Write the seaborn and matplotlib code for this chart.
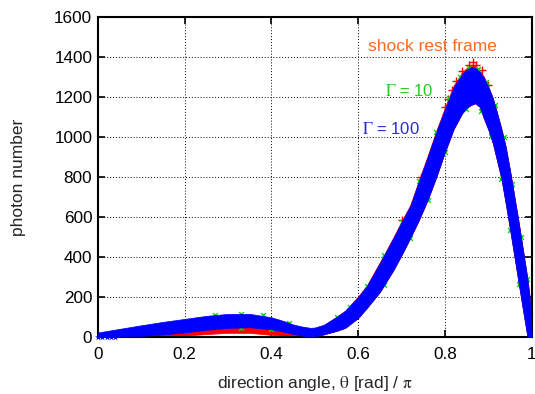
import matplotlib
matplotlib.use("Agg")
import matplotlib.pyplot as plt
import seaborn as sns

sns.set_theme(style="ticks")
plt.rcParams["font.family"] = ["Liberation Sans", "DejaVu Sans"]
plt.rcParams["mathtext.fontset"] = "stix"

# angle grid (theta / pi)
theta = [0, .05, .1, .15, .2, .25, .3, .35, .4, .43, .45, .47, .49, .5, .52, .55, .57,
         .6, .62, .65, .68, .7, .72, .74, .76, .78, .8, .82, .84, .85, .86, .87, .88,
         .89, .9, .91, .92, .93, .94, .95, .96, .97, .98, .99, .995, 1.0]

# Gamma = 100 band (upper / lower envelope)
g100_hi = [22, 40, 58, 75, 90, 105, 115, 115, 98, 78, 62, 52, 45, 47, 60, 100, 130,
           200, 255, 370, 490, 575, 655, 780, 900, 1025, 1140, 1250, 1315, 1335, 1350,
           1345, 1325, 1295, 1250, 1195, 1120, 1040, 950, 830, 700, 570, 430, 290, 200, 0]
g100_lo = [0, 2, 5, 12, 22, 35, 45, 48, 38, 25, 15, 6, 3, 4, 12, 30, 45,
           95, 145, 225, 330, 410, 495, 585, 685, 800, 925, 1040, 1120, 1145, 1160,
           1168, 1150, 1090, 1035, 970, 880, 790, 665, 535, 400, 265, 130, 0, 0, 0]

# shock rest frame band
srf_hi = [15, 20, 25, 30, 35, 45, 52, 55, 45, 30, 20, 10, 5, 10, 55, 100, 132,
          203, 258, 374, 494, 579, 660, 785, 906, 1032, 1148, 1258, 1325, 1345, 1362,
          1355, 1332, 1300, 1250, 1195, 1120, 1040, 950, 830, 700, 570, 430, 290, 200, 0]
srf_lo = [0, 0, 2, 4, 6, 14, 20, 20, 10, 5, 2, 0, 0, 0, 12, 30, 45,
          95, 145, 225, 330, 410, 495, 585, 685, 800, 925, 1040, 1120, 1145, 1160,
          1168, 1150, 1090, 1035, 970, 880, 790, 665, 535, 400, 265, 130, 0, 0, 0]

# scattered points that show at the band edges
srf_pts_x = [0.80, 0.806, 0.815, 0.826, 0.84, 0.855, 0.864, 0.872, 0.885, 0.70, 0.745, 0.90]
srf_pts_y = [1150, 1190, 1235, 1280, 1330, 1360, 1373, 1362, 1335, 585, 800, 1262]
g10_pts_x = [0.62, 0.66, 0.70, 0.74, 0.78, 0.81, 0.835, 0.855,
             0.875, 0.895, 0.915, 0.935, 0.955, 0.975, 0.99,
             0.66, 0.72, 0.76, 0.80, 0.848, 0.883,
             0.905, 0.93, 0.95, 0.97,
             0.27, 0.33, 0.38, 0.44, 0.55, 0.58, 0.33, 0.40]
g10_pts_y = [255, 410, 575, 780, 1025, 1195, 1300, 1345,
             1338, 1275, 1160, 1000, 765, 500, 290,
             258, 495, 685, 925, 1140, 1130,
             1005, 790, 535, 265,
             110, 116, 108, 70, 100, 150, 46, 38]
g100_pts_x = [0.0, 0.01, 0.02, 0.03, 0.04]
g100_pts_y = [0, 0, 0, 0, 0]

fig, ax = plt.subplots(figsize=(5.35, 3.94), dpi=100)
fig.subplots_adjust(left=0.183, right=0.994, bottom=0.145, top=0.957)

ax.fill_between(theta, srf_lo, srf_hi, color="#ff0000", lw=0.5, zorder=2)
sns.scatterplot(x=srf_pts_x, y=srf_pts_y, marker="+", color="#ff0000", s=28,
                linewidth=1, ax=ax, zorder=2)
sns.scatterplot(x=g10_pts_x, y=g10_pts_y, marker="x", color="#00dd00", s=12,
                linewidth=1, ax=ax, zorder=3)
ax.fill_between(theta, g100_lo, g100_hi, color="#0000ff", lw=0.5, zorder=4)
sns.scatterplot(x=g100_pts_x, y=g100_pts_y, marker="*", color="#0000ff", s=25,
                linewidth=0, ax=ax, zorder=4, clip_on=False)

ax.text(0.772, 1450, "shock rest frame", color="#ff6a20", fontsize=12.5,
        ha="center", va="center")
ax.text(0.717, 1230, r"$\Gamma$ = 10", color="#22cc22", fontsize=12,
        ha="center", va="center")
ax.text(0.676, 1040, r"$\Gamma$ = 100", color="#2a2ad8", fontsize=12,
        ha="center", va="center")

ax.set_xlim(0, 1)
ax.set_ylim(0, 1600)
ax.set_xticks([0, 0.2, 0.4, 0.6, 0.8, 1.0])
ax.set_xticklabels(["0", "0.2", "0.4", "0.6", "0.8", "1"])
ax.set_yticks(range(0, 1601, 200))
ax.grid(True, color="black", linestyle=(0, (1, 2)), linewidth=0.7)
ax.tick_params(direction="in", top=True, right=True, length=5, width=1.2,
               labelsize=12.3, colors="black", pad=4)
ax.tick_params(axis="x", pad=7)
for s in ax.spines.values():
    s.set_linewidth(1.5)
    s.set_color("black")
    s.set_visible(True)

ax.set_xlabel(r"direction angle, $\mathrm{\theta}$ [rad] / $\mathrm{\pi}$", fontsize=12.5)
ax.set_ylabel("photon number", fontsize=12.5)
ax.xaxis.set_label_coords(0.5, -0.115)
ax.yaxis.set_label_coords(-0.166, 0.5)

fig.savefig("out.png", dpi=100)
